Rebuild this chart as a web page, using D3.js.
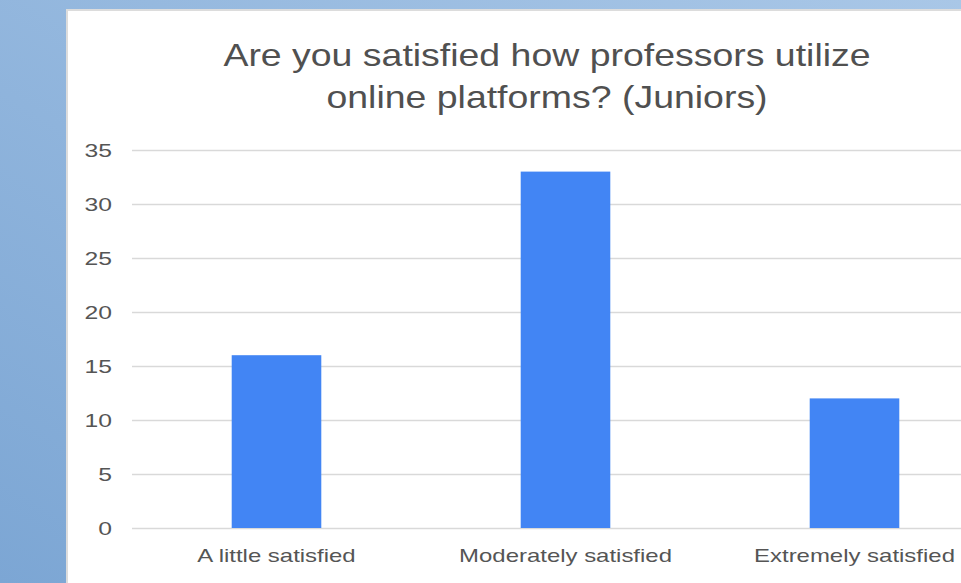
<!DOCTYPE html>
<html>
<head>
<meta charset="utf-8">
<script src="https://cdn.jsdelivr.net/npm/d3@7"></script>
<style>
  html, body { margin: 0; padding: 0; }
  body { width: 961px; height: 583px; overflow: hidden; }
  svg { display: block; }
</style>
</head>
<body>
<svg id="chart" width="961" height="583"></svg>
<script>
// Survey responses (juniors)
const categories = ["A little satisfied", "Moderately satisfied", "Extremely satisfied"];
const counts = [16, 33, 12];
const yTicks = [0, 5, 10, 15, 20, 25, 30, 35];
const titleLines = ["Are you satisfied how professors utilize", "online platforms? (Juniors)"];

const svg = d3.select("#chart");
const W = 961, H = 583;
const font = "'Liberation Sans', Arial, sans-serif";

// Widen a text element horizontally around its anchor
function widen(sel, factor) {
  sel.each(function () {
    const len = this.getComputedTextLength();
    d3.select(this)
      .attr("textLength", len * factor)
      .attr("lengthAdjust", "spacingAndGlyphs");
  });
}

// Slide backdrop
const defs = svg.append("defs");
const bg = defs.append("linearGradient").attr("id", "bg").attr("x1", 0).attr("y1", 1).attr("x2", 1).attr("y2", 0);
bg.append("stop").attr("offset", 0).attr("stop-color", "#7ca6d4");
bg.append("stop").attr("offset", 1).attr("stop-color", "#a9c7e7");
svg.append("rect").attr("width", W).attr("height", H).attr("fill", "url(#bg)");

// Chart panel
svg.append("rect").attr("x", 66).attr("y", 9).attr("width", W).attr("height", H)
  .attr("fill", "#dcdcdc");
svg.append("rect").attr("x", 68).attr("y", 11).attr("width", W).attr("height", H)
  .attr("fill", "#ffffff");

const plot = { left: 132, right: 999, top: 150, bottom: 528 };

const x = d3.scaleBand()
  .domain(categories)
  .range([plot.left, plot.right])
  .paddingInner(0.69)
  .paddingOuter(0.345);

const y = d3.scaleLinear()
  .domain([0, 35])
  .range([plot.bottom, plot.top]);

// Gridlines and y labels
const yAxis = d3.axisLeft(y)
  .tickValues(yTicks)
  .tickSize(-(plot.right - plot.left))
  .tickPadding(20);
const yg = svg.append("g").attr("transform", `translate(${plot.left},0)`).call(yAxis);
yg.select(".domain").remove();
yg.selectAll(".tick line").attr("stroke", "#d9d9d9").attr("stroke-width", 1.5);
yg.selectAll(".tick text")
  .attr("fill", "#555555")
  .style("font-family", font)
  .style("font-size", "19px")
  .call(widen, 1.3);

// Bars
svg.append("g").selectAll("rect")
  .data(categories)
  .join("rect")
  .attr("x", d => x(d))
  .attr("width", x.bandwidth())
  .attr("y", (d, i) => y(counts[i]))
  .attr("height", (d, i) => y(0) - y(counts[i]))
  .attr("fill", "#4285f4");

// Category labels
const xAxis = d3.axisBottom(x).tickSize(0).tickPadding(21);
const xg = svg.append("g").attr("transform", `translate(0,${plot.bottom})`).call(xAxis);
xg.select(".domain").remove();
xg.selectAll(".tick text")
  .attr("fill", "#555555")
  .style("font-family", font)
  .style("font-size", "19px")
  .call(widen, 1.26);

// Title
svg.append("g").selectAll("text")
  .data(titleLines)
  .join("text")
  .attr("x", 547)
  .attr("y", (d, i) => 66 + i * 42)
  .attr("text-anchor", "middle")
  .attr("fill", "#505050")
  .style("font-family", font)
  .style("font-size", "32px")
  .text(d => d)
  .call(widen, 1.17);
</script>
</body>
</html>
